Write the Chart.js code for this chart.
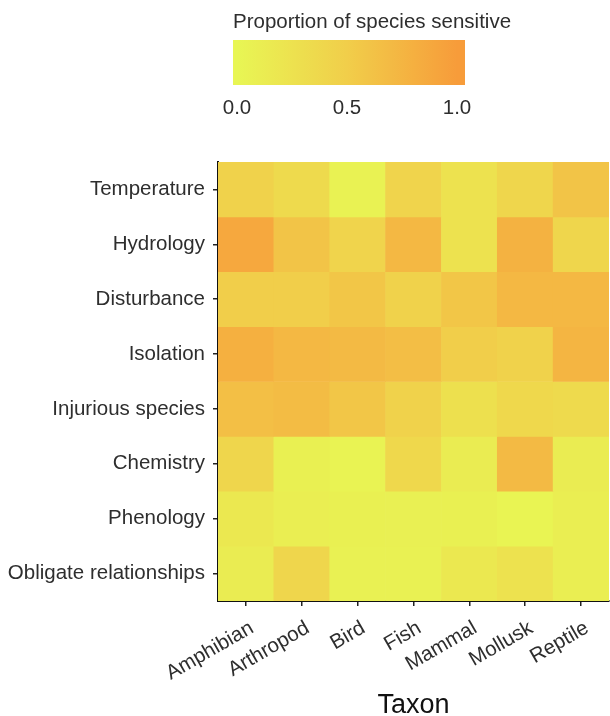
<!DOCTYPE html>
<html>
<head>
<meta charset="utf-8">
<title>Proportion of species sensitive</title>
<script src="https://cdn.jsdelivr.net/npm/chart.js@4.4.1/dist/chart.umd.min.js"></script>
<style>
  html, body { margin: 0; padding: 0; background: #fff; }
  #wrap { width: 610px; height: 716px; }
</style>
</head>
<body>
<div id="wrap"><canvas id="heat" width="610" height="716"></canvas></div>
<script>
// taxa (columns) and sensitivity factors (rows, top to bottom)
const taxa    = ['Amphibian', 'Arthropod', 'Bird', 'Fish', 'Mammal', 'Mollusk', 'Reptile'];
const factors = ['Temperature', 'Hydrology', 'Disturbance', 'Isolation',
                 'Injurious species', 'Chemistry', 'Phenology', 'Obligate relationships'];

// proportion of species sensitive, one array per factor, in taxa order
const temperature = [0.45, 0.35, 0.05, 0.42, 0.25, 0.40, 0.60];
const hydrology   = [0.88, 0.60, 0.42, 0.72, 0.25, 0.78, 0.40];
const disturbance = [0.50, 0.50, 0.58, 0.45, 0.58, 0.72, 0.72];
const isolation   = [0.80, 0.72, 0.70, 0.66, 0.50, 0.45, 0.75];
const injurious   = [0.65, 0.68, 0.58, 0.45, 0.28, 0.38, 0.35];
const chemistry   = [0.40, 0.08, 0.04, 0.38, 0.12, 0.70, 0.12];
const phenology   = [0.18, 0.10, 0.08, 0.07, 0.08, 0.03, 0.10];
const obligate    = [0.12, 0.40, 0.06, 0.06, 0.18, 0.25, 0.10];

const rows = [temperature, hydrology, disturbance, isolation, injurious, chemistry, phenology, obligate];

// colour bar
const legendTitle = 'Proportion of species sensitive';
const legendTicks = [0.0, 0.5, 1.0];

// low -> high fill ramp
const RAMP = [
    [0.0, [232, 246, 84]],
    [0.5, [241, 206, 74]],
    [1.0, [247, 156, 58]],
];

function fillFor(v) {
    for (let k = 1; k < RAMP.length; k++) {
        const [p0, c0] = RAMP[k - 1], [p1, c1] = RAMP[k];
        if (v <= p1 || k === RAMP.length - 1) {
            const t = Math.max(0, Math.min(1, (v - p0) / (p1 - p0)));
            const c = c0.map((a, j) => Math.round(a + (c1[j] - a) * t));
            return `rgb(${c[0]},${c[1]},${c[2]})`;
        }
    }
}

const FONT = "'Liberation Sans', Arial, Helvetica, sans-serif";
const TEXT = '#2e2e2e';
const SIZE = 20.5;
Chart.defaults.font.family = FONT;
Chart.defaults.color = TEXT;

// colour bar legend above the panel
const colorBar = {
    id: 'colorBar',
    afterDraw(chart) {
        const ctx = chart.ctx;
        const x0 = 233, x1 = 465, y0 = 40, y1 = 85;
        const v0 = 237, v1 = 457;   // positions of 0 and 1 on the bar
        ctx.save();
        const g = ctx.createLinearGradient(v0, 0, v1, 0);
        for (let i = 0; i <= 20; i++) g.addColorStop(i / 20, fillFor(i / 20));
        ctx.fillStyle = g;
        ctx.fillRect(x0, y0, x1 - x0, y1 - y0);

        ctx.fillStyle = TEXT;
        ctx.font = `${SIZE}px ${FONT}`;
        ctx.textBaseline = 'middle';
        ctx.textAlign = 'left';
        ctx.fillText(legendTitle, 233, 22);
        ctx.textAlign = 'center';
        legendTicks.forEach(t => {
            ctx.fillText(t.toFixed(1), v0 + (v1 - v0) * t, 108);
        });
        ctx.restore();
    }
};

new Chart(document.getElementById('heat').getContext('2d'), {
    type: 'bar',
    data: {
        labels: taxa,
        datasets: factors.map((f, i) => ({
            label: f,
            data: taxa.map(() => [i, i + 1]),
            backgroundColor: rows[i].map(fillFor),
            borderWidth: 0,
            barPercentage: 1,
            categoryPercentage: 1
        }))
    },
    options: {
        responsive: false,
        animation: false,
        layout: { padding: { top: 162, right: 1, left: 0, bottom: 0 } },
        plugins: { legend: { display: false }, tooltip: { enabled: false } },
        scales: {
            x: {
                stacked: true,
                afterFit: s => { s.height = 115; },
                grid: { offset: false, drawOnChartArea: false, drawTicks: true, tickLength: 5, color: '#222', lineWidth: 1.5 },
                border: { display: true, color: '#111', width: 2 },
                ticks: { color: TEXT, font: { size: SIZE }, minRotation: 30, maxRotation: 30,
                         padding: 10, labelOffset: 6, autoSkip: false },
                title: { display: true, text: 'Taxon', color: '#111', font: { size: 27, lineHeight: 1 }, padding: { top: 0, bottom: -3 } }
            },
            y: {
                min: 0, max: 8, reverse: true,
                afterFit: s => { s.width = 218; },
                afterBuildTicks: s => { s.ticks = factors.map((f, i) => ({ value: i + 0.5 })); },
                grid: { drawOnChartArea: false, drawTicks: true, tickLength: 5, color: '#222', lineWidth: 1.5 },
                border: { display: true, color: '#111', width: 2 },
                ticks: { color: TEXT, font: { size: SIZE }, padding: 8, autoSkip: false,
                         callback: (v, i) => factors[i] }
            }
        }
    },
    plugins: [colorBar]
});
</script>
</body>
</html>
